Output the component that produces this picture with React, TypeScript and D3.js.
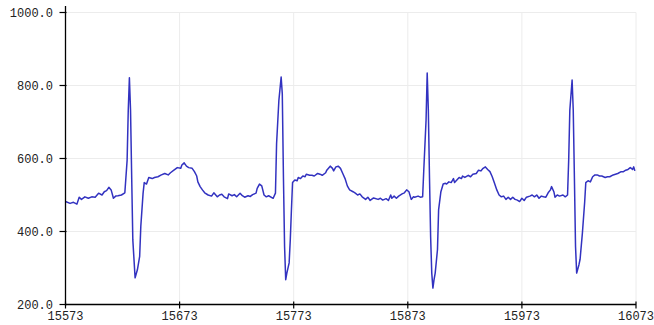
import React from "react";
import * as d3 from "d3";

const samples: number[] = [
  15573, 15577, 15580, 15583, 15585, 15587, 15590, 15593, 15596, 15599, 15602, 15605, 15607, 15609, 15611, 15613,
  15615, 15617, 15619, 15622, 15625, 15627, 15628, 15629, 15630, 15631, 15632, 15634, 15636, 15638, 15639, 15641,
  15642, 15644, 15646, 15649, 15651, 15654, 15657, 15660, 15663, 15665, 15668, 15671, 15674, 15675, 15677, 15679,
  15681, 15684, 15686, 15688, 15689, 15691, 15693, 15695, 15698, 15701, 15703, 15706, 15708, 15710, 15712, 15715,
  15716, 15719, 15721, 15723, 15726, 15728, 15730, 15733, 15735, 15737, 15740, 15741, 15743, 15745, 15747, 15749,
  15751, 15755, 15757, 15758, 15760, 15762, 15763, 15764, 15765, 15766, 15767, 15769, 15770, 15771, 15772, 15774,
  15776, 15777, 15779, 15781, 15783, 15784, 15787, 15789, 15791, 15794, 15796, 15798, 15801, 15802, 15805, 15807,
  15808, 15810, 15812, 15814, 15816, 15818, 15820, 15822, 15825, 15827, 15829, 15831, 15833, 15836, 15838, 15840,
  15843, 15847, 15849, 15851, 15854, 15856, 15858, 15859, 15861, 15863, 15865, 15868, 15870, 15872, 15874, 15876,
  15878, 15879, 15882, 15884, 15886, 15887, 15889, 15890, 15891, 15892, 15893, 15894, 15895, 15896, 15897, 15899,
  15900, 15902, 15904, 15906, 15907, 15909, 15911, 15913, 15914, 15916, 15918, 15920, 15921, 15923, 15926, 15928,
  15930, 15933, 15935, 15937, 15939, 15941, 15943, 15945, 15947, 15949, 15951, 15953, 15955, 15957, 15959, 15961,
  15963, 15965, 15967, 15969, 15971, 15973, 15975, 15977, 15980, 15982, 15984, 15986, 15988, 15990, 15992, 15994,
  15996, 15998, 15999, 16001, 16002, 16004, 16006, 16009, 16011, 16013, 16014, 16015, 16017, 16018, 16019, 16020,
  16021, 16023, 16024, 16026, 16028, 16029, 16031, 16033, 16035, 16037, 16039, 16041, 16043, 16046, 16048, 16050,
  16053, 16055, 16057, 16060, 16062, 16064, 16066, 16068, 16070, 16071, 16072,
];

const signal: number[] = [
  482, 477, 480, 475, 494, 488, 495, 491, 495, 494, 505, 500, 509, 512, 521, 514,
  491, 497, 498, 500, 506, 595, 732, 821, 732, 550, 377, 273, 295, 332, 414, 505,
  534, 530, 548, 545, 548, 550, 555, 559, 555, 561, 568, 575, 573, 582, 588, 579,
  575, 573, 564, 552, 536, 523, 514, 506, 500, 497, 506, 495, 500, 502, 495, 490,
  503, 498, 501, 495, 505, 498, 494, 498, 496, 501, 505, 518, 530, 525, 500, 495,
  498, 491, 505, 641, 759, 823, 777, 550, 359, 268, 286, 314, 377, 459, 534, 541,
  539, 548, 545, 552, 550, 557, 554, 554, 552, 559, 557, 554, 561, 568, 579, 573,
  566, 577, 579, 573, 559, 545, 525, 514, 509, 505, 500, 503, 495, 488, 494, 485,
  492, 488, 491, 486, 490, 485, 500, 491, 497, 491, 497, 503, 506, 514, 509, 488,
  495, 494, 497, 494, 495, 568, 705, 834, 732, 550, 386, 286, 245, 268, 286, 350,
  459, 509, 530, 532, 530, 536, 534, 545, 534, 541, 548, 545, 552, 548, 554, 550,
  557, 559, 568, 566, 573, 577, 570, 564, 550, 532, 514, 500, 495, 497, 488, 494,
  488, 494, 488, 486, 482, 491, 485, 494, 497, 500, 495, 500, 491, 497, 495, 494,
  506, 514, 523, 509, 494, 500, 497, 500, 495, 500, 595, 732, 815, 732, 550, 359,
  286, 309, 324, 395, 480, 534, 539, 536, 550, 555, 555, 552, 552, 548, 550, 550,
  555, 557, 559, 564, 564, 568, 570, 575, 570, 577, 566,
];

const xTicks: number[] = [15573, 15673, 15773, 15873, 15973, 16073];
const yTicks: number[] = [200, 400, 600, 800, 1000];

const W = 654;
const H = 325;
const left = 65.5;
const right = 636;
const top = 12.5;
const bottom = 304.5;

export default function App() {
  const x = d3.scaleLinear().domain([15573, 16073]).range([left, right]);
  const y = d3.scaleLinear().domain([200, 1000]).range([bottom, top]);
  const pts: [number, number][] = samples.map((s, i) => [s, signal[i]]);
  const line = d3
    .line<[number, number]>()
    .x((d) => x(d[0]))
    .y((d) => y(d[1]))
    .curve(d3.curveLinear);
  const fmt = d3.format(".1f");
  const font = "'Liberation Mono', 'DejaVu Sans Mono', monospace";

  return (
    <div style={{ position: "absolute", left: 0, top: 0, width: W, height: H, background: "#fff" }}>
      <svg width={W} height={H} style={{ display: "block" }}>
        <rect x={0} y={0} width={W} height={H} fill="#fff" />
        {xTicks.map((t) => (
          <line key={"gx" + t} x1={x(t)} x2={x(t)} y1={top} y2={bottom} stroke="#ececec" strokeWidth={1} />
        ))}
        {yTicks.map((t) => (
          <line key={"gy" + t} x1={left} x2={right} y1={y(t)} y2={y(t)} stroke="#ececec" strokeWidth={1} />
        ))}
        <path d={line(pts) || ""} fill="none" stroke="#3232c0" strokeWidth={1.5} strokeLinejoin="round" />
        <line x1={left} x2={left} y1={6} y2={bottom + 1} stroke="#000" strokeWidth={1.3} />
        <line x1={left} x2={right} y1={bottom} y2={bottom} stroke="#000" strokeWidth={1.3} />
        {yTicks.map((t) => (
          <g key={"ty" + t}>
            <line x1={left - 6} x2={left + 1} y1={y(t)} y2={y(t)} stroke="#000" strokeWidth={1.2} />
            <text x={53} y={y(t) + 4} textAnchor="end" fontFamily={font} fontSize={12} fill="#222">
              {fmt(t)}
            </text>
          </g>
        ))}
        {xTicks.map((t) => (
          <g key={"tx" + t}>
            <line x1={x(t)} x2={x(t)} y1={bottom - 3} y2={bottom + 4} stroke="#000" strokeWidth={1.2} />
            <text x={x(t)} y={320} textAnchor="middle" fontFamily={font} fontSize={12} fill="#222">
              {t}
            </text>
          </g>
        ))}
      </svg>
    </div>
  );
}
